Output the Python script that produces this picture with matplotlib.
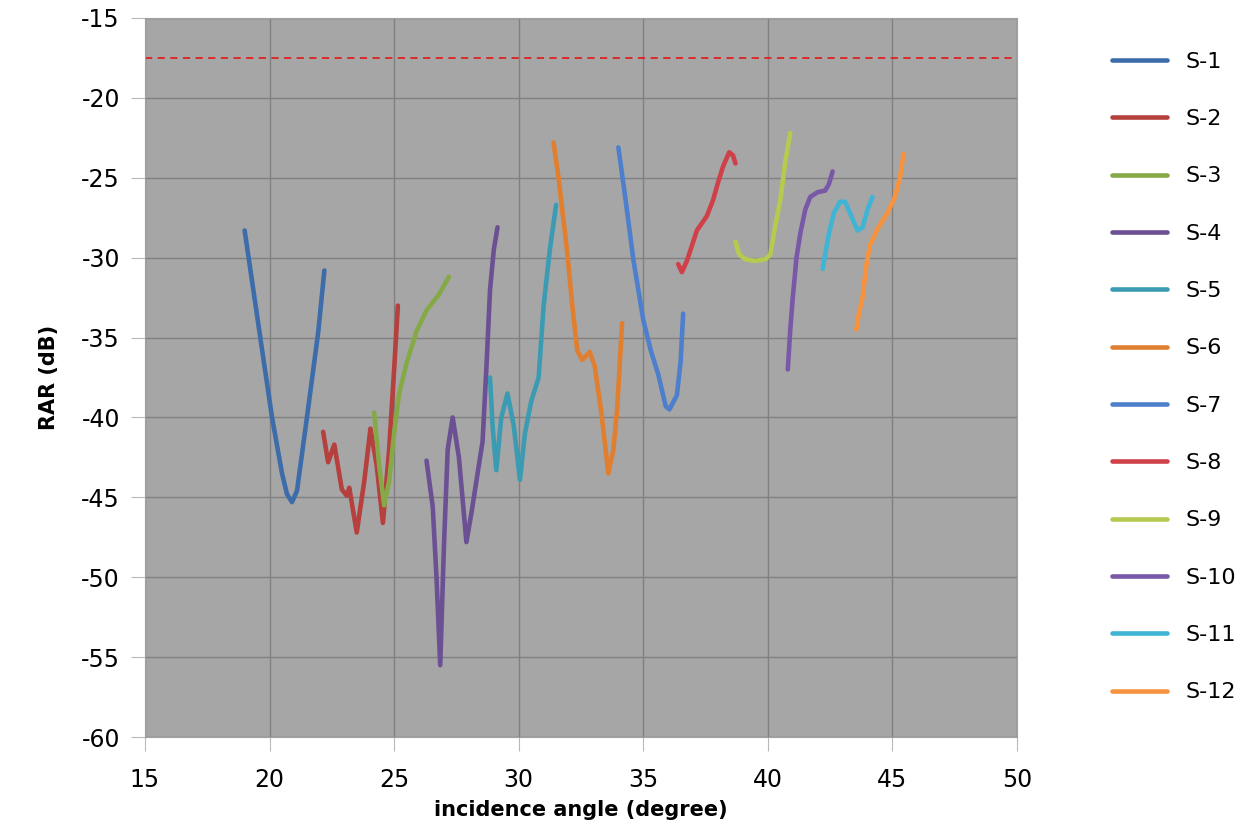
import matplotlib
matplotlib.use("Agg")
import matplotlib.pyplot as plt

plt.rcParams["axes.unicode_minus"] = False

labels = ["S-1", "S-2", "S-3", "S-4", "S-5", "S-6",
          "S-7", "S-8", "S-9", "S-10", "S-11", "S-12"]
colors = ["#3d6cab", "#b5403e", "#86a948", "#6b5093", "#3a9bb3", "#e07f30",
          "#4d7fcc", "#d04048", "#b5cb50", "#7a58a8", "#40b4d4", "#f7923e"]

# incidence angle (degree) / RAR (dB)
x1 = [19.0, 19.3, 19.6, 20.1, 20.5, 20.7, 20.9, 21.1, 21.5, 21.95, 22.2]
y1 = [-28.3, -31.5, -34.7, -40.0, -43.5, -44.8, -45.3, -44.6, -40.0, -34.7, -30.8]

x2 = [22.15, 22.35, 22.6, 22.9, 23.1, 23.2, 23.5, 23.8, 24.05, 24.3, 24.55, 24.8, 25.0, 25.15]
y2 = [-40.9, -42.8, -41.7, -44.5, -44.9, -44.4, -47.2, -44.0, -40.7, -43.0, -46.6, -42.0, -37.0, -33.0]

x3 = [24.2, 24.4, 24.6, 24.8, 25.0, 25.2, 25.5, 25.9, 26.3, 26.8, 27.2]
y3 = [-39.7, -43.0, -45.5, -44.0, -41.0, -38.5, -36.6, -34.6, -33.3, -32.3, -31.2]

x4 = [26.3, 26.55, 26.7, 26.85, 27.0, 27.15, 27.35, 27.6, 27.9, 28.1, 28.35, 28.55, 28.7, 28.85, 29.0, 29.15]
y4 = [-42.7, -45.6, -50.0, -55.5, -48.0, -42.0, -40.0, -42.5, -47.8, -46.0, -43.5, -41.5, -37.0, -32.0, -29.5, -28.1]

x5 = [28.85, 28.95, 29.1, 29.3, 29.55, 29.8, 30.05, 30.25, 30.5, 30.8, 31.0, 31.25, 31.5]
y5 = [-37.5, -40.5, -43.3, -40.0, -38.5, -40.5, -43.9, -41.0, -39.0, -37.5, -33.0, -29.5, -26.7]

x6 = [31.4, 31.6, 31.95, 32.15, 32.35, 32.55, 32.85, 33.05, 33.3, 33.6, 33.8, 33.95, 34.15]
y6 = [-22.8, -25.0, -29.7, -33.0, -35.8, -36.4, -35.9, -36.8, -39.5, -43.5, -42.0, -39.5, -34.1]

x7 = [34.0, 34.3, 34.6, 35.0, 35.3, 35.6, 35.9, 36.05, 36.35, 36.5, 36.6]
y7 = [-23.1, -26.5, -30.1, -33.9, -35.8, -37.3, -39.3, -39.5, -38.6, -36.5, -33.5]

x8 = [36.4, 36.55, 36.75, 36.9, 37.15, 37.55, 37.8, 38.0, 38.2, 38.45, 38.6, 38.7]
y8 = [-30.4, -30.9, -30.2, -29.5, -28.3, -27.4, -26.4, -25.3, -24.3, -23.4, -23.6, -24.1]

x9 = [38.7, 38.85, 39.1, 39.5, 39.9, 40.1, 40.3, 40.5, 40.7, 40.9]
y9 = [-29.0, -29.8, -30.1, -30.2, -30.1, -29.8, -28.0, -26.4, -24.0, -22.2]

x10 = [40.8, 40.9, 41.0, 41.15, 41.3, 41.5, 41.7, 42.0, 42.3, 42.45, 42.6]
y10 = [-37.0, -34.5, -32.5, -30.0, -28.5, -27.0, -26.2, -25.9, -25.8, -25.4, -24.6]

x11 = [42.2, 42.3, 42.45, 42.65, 42.9, 43.1, 43.35, 43.6, 43.8, 44.0, 44.2]
y11 = [-30.7, -29.8, -28.5, -27.2, -26.5, -26.5, -27.4, -28.3, -28.1, -27.0, -26.2]

x12 = [43.55, 43.65, 43.8, 43.95, 44.1, 44.4, 44.8, 45.1, 45.3, 45.45]
y12 = [-34.5, -33.5, -32.5, -30.5, -29.2, -28.2, -27.2, -26.2, -25.0, -23.5]

xs = [x1, x2, x3, x4, x5, x6, x7, x8, x9, x10, x11, x12]
ys = [y1, y2, y3, y4, y5, y6, y7, y8, y9, y10, y11, y12]

limit = -17.5

fig = plt.figure(figsize=(12.52, 8.33), dpi=100)
ax = fig.add_axes([0.1158, 0.1152, 0.6965, 0.8632])
ax.set_facecolor("#a6a6a6")

for x, y, c, lab in zip(xs, ys, colors, labels):
    ax.plot(x, y, color=c, lw=3.3, label=lab, solid_joinstyle="round",
            solid_capstyle="round", zorder=3)
ax.axhline(limit, color="#e02020", lw=1.3, ls=(0, (4, 3)), zorder=2)

ax.set_xlim(15, 50)
ax.set_ylim(-60, -15)
ax.set_xticks(range(15, 51, 5))
ax.set_yticks(range(-60, -14, 5))
ax.grid(True, color="#808080", lw=1, zorder=1)
ax.set_axisbelow(True)
for s in ax.spines.values():
    s.set_color("#a0a0a0")
ax.tick_params(axis="both", direction="out", length=10, color="#b8b8b8",
               labelsize=17, pad=8)
ax.tick_params(axis="x", pad=12)

ax.set_xlabel("incidence angle (degree)", fontsize=15, fontweight="bold", labelpad=6)
ax.set_ylabel("RAR (dB)", fontsize=15, fontweight="bold", labelpad=16)

fig.legend(loc="upper left", bbox_to_anchor=(0.872, 0.962), frameon=False,
           fontsize=16, handlelength=2.5, handletextpad=0.8, labelspacing=1.68)

fig.savefig("out.png", dpi=100)
